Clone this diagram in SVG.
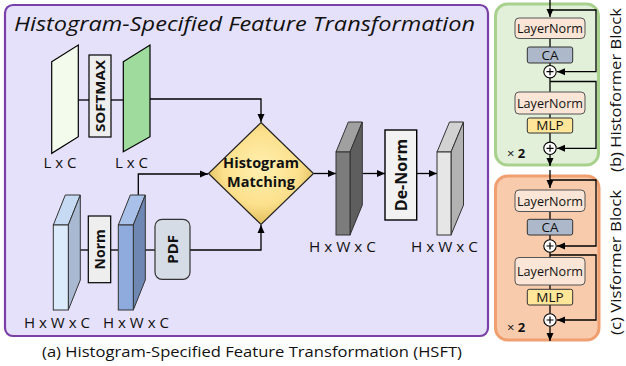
<svg xmlns="http://www.w3.org/2000/svg" width="626" height="366" viewBox="0 0 626 366">
<defs>
<marker id="arr" markerWidth="8" markerHeight="8" refX="8" refY="4" orient="auto" markerUnits="userSpaceOnUse">
<path d="M0,0.5 L8,4 L0,7.5 z" fill="#000"/>
</marker>
<radialGradient id="gold" cx="50%" cy="45%" r="60%">
<stop offset="0" stop-color="#FFF0B0"/>
<stop offset="0.6" stop-color="#FCE08C"/>
<stop offset="1" stop-color="#D8B450"/>
</radialGradient>
<style>
.conn{fill:none;stroke:#000;stroke-width:1.3}
.box{stroke:#000;stroke-width:1.2}
.t{font-family:"Open Sans","Noto Sans","Liberation Sans",sans-serif;fill:#111}
.b{font-weight:bold}
.lbl{font-size:15px;text-anchor:middle}
.pn{font-size:13.5px;text-anchor:middle}
.ln{fill:#FBE5D6;stroke:#555;stroke-width:1}
.ca{fill:#ADB9CA;stroke:#333;stroke-width:1}
.mlp{fill:#FFE699;stroke:#333;stroke-width:1}
.plus{fill:#fff;stroke:#000;stroke-width:1.1}
.cube{stroke:#333;stroke-width:1}
</style>
</defs>

<!-- Panel (a) -->
<g id="panel-a">
<rect x="5" y="5" width="483" height="331" rx="8" fill="#E6E1FA" stroke="#7B3FA8" stroke-width="2.2"/>
<text class="t" x="14" y="31" font-size="20" font-style="italic" textLength="461" lengthAdjust="spacingAndGlyphs">Histogram-Specified Feature Transformation</text>
</g>

<g id="connectors">
<line class="conn" x1="78" y1="100" x2="89" y2="100"/>
<line class="conn" x1="111" y1="100" x2="123" y2="100"/>
<path class="conn" d="M150,99 H261 V122" marker-end="url(#arr)"/>
<line class="conn" x1="80" y1="250" x2="88" y2="250"/>
<line class="conn" x1="111" y1="250" x2="118" y2="250"/>
<line class="conn" x1="145" y1="250" x2="155" y2="250"/>
<path class="conn" d="M138.3,195 V174 H208" marker-end="url(#arr)"/>
<path class="conn" d="M190,250 H261 V225" marker-end="url(#arr)"/>
<line class="conn" x1="314" y1="173.5" x2="336" y2="173.5" marker-end="url(#arr)"/>
<line class="conn" x1="362.5" y1="173.5" x2="385" y2="173.5" marker-end="url(#arr)"/>
<line class="conn" x1="417" y1="173.5" x2="437" y2="173.5" marker-end="url(#arr)"/>
</g>

<g id="lc-input">
<polygon points="51.7,61.7 78.3,45 78.3,136.7 51.7,153.3" fill="#F3FCEC" stroke="#000" stroke-width="1.2"/>
<text class="t lbl" x="60" y="168" textLength="33" lengthAdjust="spacingAndGlyphs">L x C</text>
</g>
<g id="softmax">
<rect class="box" x="89" y="55" width="22" height="82" fill="#EEEEEE"/>
<text class="t b" font-size="13" text-anchor="middle" transform="translate(100,96) rotate(-90)" dy="5" textLength="72" lengthAdjust="spacingAndGlyphs">SOFTMAX</text>
</g>
<g id="lc-output">
<polygon points="123.3,61.7 150,45 150,136.7 123.3,151.7" fill="#9FDB9C" stroke="#000" stroke-width="1.2"/>
<text class="t lbl" x="131.5" y="168" textLength="33" lengthAdjust="spacingAndGlyphs">L x C</text>
</g>

<g id="cube1">
<polygon class="cube" points="53.3,225 68.3,225 80.3,195 65.3,195" fill="#C6DBF3"/>
<polygon class="cube" points="68.3,225 80.3,195 80.3,280 68.3,310" fill="#A8B9D1"/>
<rect class="cube" x="53.3" y="225" width="15" height="85" fill="#DCEBFB"/>
<text class="t lbl" x="57" y="328" textLength="66" lengthAdjust="spacingAndGlyphs">H x W x C</text>
</g>
<g id="norm">
<rect class="box" x="88.3" y="216" width="22.4" height="66.7" fill="#EEEEEE"/>
<text class="t b" font-size="14" text-anchor="middle" transform="translate(99.5,249.3) rotate(-90)" dy="5">Norm</text>
</g>
<g id="cube2">
<polygon class="cube" points="118.3,225 133.3,225 145.3,195 130.3,195" fill="#A9C0E8"/>
<polygon class="cube" points="133.3,225 145.3,195 145.3,280 133.3,310" fill="#6F88B3"/>
<rect class="cube" x="118.3" y="225" width="15" height="85" fill="#8FAADC"/>
<text class="t lbl" x="136" y="328" textLength="66" lengthAdjust="spacingAndGlyphs">H x W x C</text>
</g>
<g id="pdf">
<rect x="155" y="219.3" width="35" height="60" rx="7" fill="#D6DCE5" stroke="#333" stroke-width="1.2"/>
<text class="t b" font-size="15" text-anchor="middle" transform="translate(172.5,249.3) rotate(-90)" dy="5.5">PDF</text>
</g>

<g id="histogram-matching">
<polygon points="261,122.5 313.5,173.5 261,224.5 208.5,173.5" fill="url(#gold)" stroke="#222" stroke-width="1.2"/>
<text class="t b" font-size="14.5" text-anchor="middle" x="261" y="168">Histogram</text>
<text class="t b" font-size="14.5" text-anchor="middle" x="261" y="187">Matching</text>
</g>

<g id="cube3">
<polygon class="cube" points="336,152 350,152 362.3,122 348.3,122" fill="#A0A0A0"/>
<polygon class="cube" points="350,152 362.3,122 362.3,205 350,235" fill="#5E5E5E"/>
<rect class="cube" x="336" y="152" width="14" height="83" fill="#7C7C7C"/>
<text class="t lbl" x="342.5" y="251.5" textLength="67" lengthAdjust="spacingAndGlyphs">H x W x C</text>
</g>
<g id="denorm">
<rect x="385" y="130" width="31.7" height="90" fill="#F2F2F2" stroke="#000" stroke-width="1.4"/>
<text class="t b" font-size="16" text-anchor="middle" transform="translate(400.8,175) rotate(-90)" dy="6">De-Norm</text>
</g>
<g id="cube4">
<polygon class="cube" points="437,152 451,152 463.5,122 449.5,122" fill="#D2D2D2"/>
<polygon class="cube" points="451,152 463.5,122 463.5,205 451,235" fill="#B2B2B2"/>
<rect class="cube" x="437" y="152" width="14" height="83" fill="#E6E6E6"/>
<text class="t lbl" x="444.5" y="251.5" textLength="67" lengthAdjust="spacingAndGlyphs">H x W x C</text>
</g>

<text class="t" x="42" y="357" font-size="15" textLength="420" lengthAdjust="spacingAndGlyphs">(a) Histogram-Specified Feature Transformation (HSFT)</text>

<!-- Panel (b) -->
<g id="histoformer-block">
<rect x="495.5" y="4" width="103" height="161" rx="12" fill="#E2F0D9" stroke="#A9D18E" stroke-width="3"/>
<path class="conn" d="M550,0 V17" marker-end="url(#arr)"/>
<path class="conn" d="M550,10 H596 V71.7 H557" marker-end="url(#arr)"/>
<line class="conn" x1="550" y1="38.5" x2="550" y2="47"/>
<line class="conn" x1="550" y1="63" x2="550" y2="65.5"/>
<line class="conn" x1="550" y1="78" x2="550" y2="92"/>
<path class="conn" d="M550,81.5 H596 V148.3 H557" marker-end="url(#arr)"/>
<line class="conn" x1="550" y1="114" x2="550" y2="118"/>
<line class="conn" x1="550" y1="133" x2="550" y2="142"/>
<path class="conn" d="M550,154.5 V166" marker-end="url(#arr)"/>
<rect class="ln" x="515" y="18" width="70" height="20.5" rx="4"/>
<text class="t pn" x="550" y="33" textLength="66" lengthAdjust="spacingAndGlyphs">LayerNorm</text>
<rect class="ca" x="527.3" y="47" width="45.4" height="16" rx="2"/>
<text class="t pn" x="550" y="60">CA</text>
<circle class="plus" cx="550" cy="71.7" r="6.2"/>
<path d="M546.5,71.7 H553.5 M550,68.2 V75.2" stroke="#000" stroke-width="1.2"/>
<rect class="ln" x="515" y="92" width="70" height="22" rx="4"/>
<text class="t pn" x="550" y="107.5" textLength="66" lengthAdjust="spacingAndGlyphs">LayerNorm</text>
<rect class="mlp" x="527.3" y="118" width="45.4" height="15" rx="2"/>
<text class="t pn" x="550" y="130">MLP</text>
<circle class="plus" cx="550" cy="148.3" r="6.2"/>
<path d="M546.5,148.3 H553.5 M550,144.8 V151.8" stroke="#000" stroke-width="1.2"/>
<text class="t" x="507" y="158" font-size="13">× <tspan font-weight="bold">2</tspan></text>
<text class="t" font-size="15" text-anchor="middle" transform="translate(621,90) rotate(-90)" textLength="164" lengthAdjust="spacingAndGlyphs">(b) Histoformer Block</text>
</g>

<!-- Panel (c) -->
<g id="visformer-block">
<rect x="495.5" y="176" width="103.5" height="164" rx="12" fill="#F8CBAD" stroke="#F0A070" stroke-width="3"/>
<path class="conn" d="M550,170 V188" marker-end="url(#arr)"/>
<path class="conn" d="M550,180 H596 V246 H557" marker-end="url(#arr)"/>
<line class="conn" x1="550" y1="211.5" x2="550" y2="219.3"/>
<line class="conn" x1="550" y1="235" x2="550" y2="240"/>
<line class="conn" x1="550" y1="252" x2="550" y2="257.5"/>
<path class="conn" d="M550,255 H596 V320 H557" marker-end="url(#arr)"/>
<line class="conn" x1="550" y1="285" x2="550" y2="289.3"/>
<line class="conn" x1="550" y1="305" x2="550" y2="314"/>
<path class="conn" d="M550,326.2 V341" marker-end="url(#arr)"/>
<rect class="ln" x="515" y="190" width="70" height="21.5" rx="4" fill="#FCE6D8"/>
<text class="t pn" x="550" y="205.5" textLength="66" lengthAdjust="spacingAndGlyphs">LayerNorm</text>
<rect class="ca" x="527.3" y="219.3" width="45.4" height="15.7" rx="2"/>
<text class="t pn" x="550" y="232">CA</text>
<circle class="plus" cx="550" cy="246" r="6.2"/>
<path d="M546.5,246 H553.5 M550,242.5 V249.5" stroke="#000" stroke-width="1.2"/>
<rect class="ln" x="515" y="257.5" width="70" height="27.5" rx="4" fill="#FCE6D8"/>
<text class="t pn" x="550" y="276" textLength="66" lengthAdjust="spacingAndGlyphs">LayerNorm</text>
<rect class="mlp" x="527.3" y="289.3" width="45.4" height="15.7" rx="2"/>
<text class="t pn" x="550" y="302">MLP</text>
<circle class="plus" cx="550" cy="320" r="6.2"/>
<path d="M546.5,320 H553.5 M550,316.5 V323.5" stroke="#000" stroke-width="1.2"/>
<text class="t" x="507" y="332" font-size="13">× <tspan font-weight="bold">2</tspan></text>
<text class="t" font-size="15" text-anchor="middle" transform="translate(621,262.5) rotate(-90)" textLength="145" lengthAdjust="spacingAndGlyphs">(c) Visformer Block</text>
</g>
</svg>
